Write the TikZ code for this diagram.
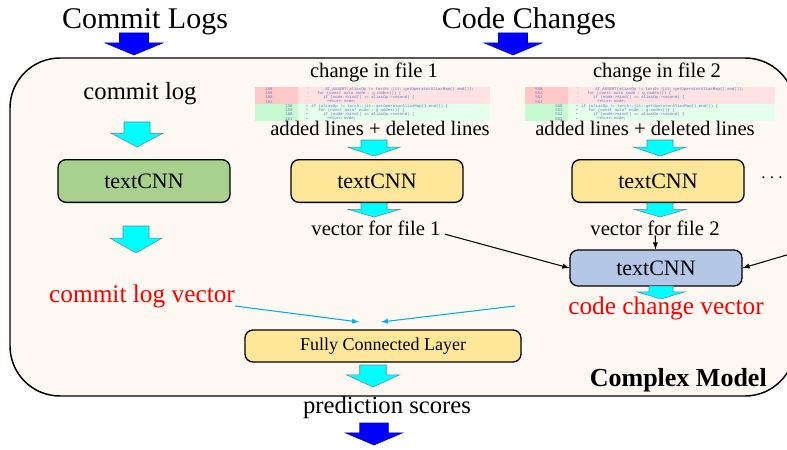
\documentclass[tikz,border=0pt]{standalone}
\usepackage{fontspec}
\setmainfont{Liberation Serif}
\setmonofont{Liberation Mono}
\usetikzlibrary{arrows}

\definecolor{bgcream}{RGB}{253,249,242}
\definecolor{cnngreen}{RGB}{169,209,142}
\definecolor{cnnyellow}{RGB}{255,230,153}
\definecolor{cnnblue}{RGB}{180,199,231}
\definecolor{lineblue}{RGB}{0,176,240}
\definecolor{delrow}{RGB}{255,226,226}
\definecolor{delnum}{RGB}{255,200,200}
\definecolor{addrow}{RGB}{228,255,234}
\definecolor{addnum}{RGB}{200,250,210}
\definecolor{codeink}{RGB}{105,115,190}
\definecolor{arrowcyan}{RGB}{0,255,255}
\definecolor{arrowblue}{RGB}{0,0,255}
\definecolor{arrowrim}{RGB}{90,140,160}

\tikzset{
  cnn/.style={draw,line width=1pt,rounded corners=6pt,minimum width=129pt,
    minimum height=32pt,font=\fontsize{16.5}{20}\selectfont},
  lbl/.style={inner sep=0pt,font=\fontsize{15.5}{18}\selectfont},
  biglbl/.style={inner sep=0pt,font=\fontsize{18.5}{22}\selectfont},
  title/.style={inner sep=0pt,font=\fontsize{22.5}{27}\selectfont},
  vecred/.style={inner sep=0pt,text=red,font=\fontsize{19}{23}\selectfont},
  code/.style={inner sep=0pt,text=codeink,font=\ttfamily\fontsize{3}{3}\selectfont},
  cyanarrow/.style={fill=arrowcyan,draw=arrowrim,line width=0.4pt},
  bluearrow/.style={fill=arrowblue,draw={rgb,255:red,0;green,0;blue,170},line width=0.4pt}
}

\newcommand{\fatarrow}[5]{%
  \path[#1] (#2-#4/4,#3) -- (#2+#4/4,#3) -- (#2+#4/4,#3+#5*0.45)
    -- (#2+#4/2,#3+#5*0.45) -- (#2,#3+#5) -- (#2-#4/2,#3+#5*0.45)
    -- (#2-#4/4,#3+#5*0.45) -- cycle;}

\newcommand{\diffsnip}[4]{%
  \begin{scope}[shift={(#1,#2)}]
    \fill[delrow] (0,0) rectangle (#3,17);
    \fill[delnum] (0,0) rectangle (43,17);
    \fill[addrow] (0,17) rectangle (#3,34);
    \fill[addnum] (0,17) rectangle (43,34);
    \node[code] at (14,2.1)  {\number\numexpr#4\relax};
    \node[code] at (14,6.4)  {\number\numexpr#4+1\relax};
    \node[code] at (14,10.6) {\number\numexpr#4+2\relax};
    \node[code] at (14,14.9) {\number\numexpr#4+3\relax};
    \node[code] at (34,19.1) {\number\numexpr#4\relax};
    \node[code] at (34,23.4) {\number\numexpr#4+1\relax};
    \node[code] at (34,27.6) {\number\numexpr#4+2\relax};
    \node[code] at (34,31.9) {\number\numexpr#4+3\relax};
    \node[code] at (53,2.1)  {-};
    \node[code] at (53,6.4)  {-};
    \node[code] at (53,10.6) {-};
    \node[code] at (53,14.9) {-};
    \node[code] at (52,19.1) {+};
    \node[code] at (52,23.4) {+};
    \node[code] at (52,27.6) {+};
    \node[code] at (52,31.9) {+};
    \node[code,anchor=west] at (70,2.1)  {AT\_ASSERT(aliasOp != torch::jit::getOperatorAliasMap().end());};
    \node[code,anchor=west] at (62,6.4)  {for (const auto node : g.nodes()) \{};
    \node[code,anchor=west] at (68,10.6) {if (node->kind() == aliasOp->second) \{};
    \node[code,anchor=west] at (72,14.9) {return node;};
    \node[code,anchor=west] at (56,19.1) {if (aliasOp != torch::jit::getOperatorAliasMap().end()) \{};
    \node[code,anchor=west] at (63,23.4) {for (const auto* node : g.nodes()) \{};
    \node[code,anchor=west] at (68,27.6) {if (node->kind() == aliasOp->second) \{};
    \node[code,anchor=west] at (72,31.9) {return node;};
  \end{scope}}

\begin{document}
\begin{tikzpicture}[x=0.75pt,y=-0.75pt,>=latex]
  \useasboundingbox (0,0) rectangle (787,449);

  \draw[line width=1.1pt,fill=bgcream,rounded corners=37.5pt] (10,58) rectangle (795,396);

  \node[title,anchor=base] (clogs)    at (145,29) {Commit Logs};
  \node[title,anchor=base] (cchanges) at (529,29) {Code Changes};
  \fatarrow{bluearrow}{134}{33}{58}{22}
  \fatarrow{bluearrow}{513}{33}{58}{22}

  \node[biglbl,anchor=base] (clog) at (140,100) {commit log};
  \fatarrow{cyanarrow}{137}{122}{52}{25}
  \node[cnn,fill=cnngreen] (tcg) at (144,181) {textCNN};
  \fatarrow{cyanarrow}{136}{226}{52}{27}
  \node[vecred,anchor=base] (clv) at (142,302) {commit log vector};

  \node[lbl,anchor=base] (chg1) at (374,78) {change in file 1};
  \diffsnip{255}{87}{235}{158}
  \node[lbl,anchor=base] (add1) at (380,136) {added lines + deleted lines};
  \fatarrow{cyanarrow}{374}{140}{52}{16}
  \node[cnn,fill=cnnyellow] (tcy1) at (377,181) {textCNN};
  \fatarrow{cyanarrow}{374}{203}{52}{14}
  \node[lbl,anchor=base] (vf1) at (376,235) {vector for file 1};

  \node[lbl,anchor=base] (chg2) at (657,78) {change in file 2};
  \diffsnip{525}{87}{250}{550}
  \node[lbl,anchor=base] (add2) at (645,136) {added lines + deleted lines};
  \fatarrow{cyanarrow}{660}{140}{52}{16}
  \node[cnn,fill=cnnyellow] (tcy2) at (658,181) {textCNN};
  \node[lbl] (dots) at (772,178) {$\cdots$};
  \fatarrow{cyanarrow}{660}{203}{52}{14}
  \node[lbl,anchor=base] (vf2) at (655,235) {vector for file 2};

  \node[cnn,fill=cnnblue,minimum height=27pt] (tcb) at (656,268) {textCNN};
  \coordinate (more) at (790,254);
  \fatarrow{cyanarrow}{661}{286}{48}{13}
  \node[vecred,anchor=base] (ccv) at (666,314) {code change vector};
  \coordinate (ccvtail) at (515,306);

  \node[cnn,fill=cnnyellow,minimum width=207pt,minimum height=24pt,
    font=\fontsize{13.5}{16}\selectfont] (fcl) at (383,346) {Fully Connected Layer};
  \fatarrow{cyanarrow}{373}{365}{53}{22}
  \node[anchor=base east,inner sep=0pt,font=\bfseries\fontsize{19.5}{23}\selectfont] (cmodel) at (767,386) {Complex Model};

  \node[biglbl,anchor=base] (pscores) at (387,413) {prediction scores};
  \fatarrow{bluearrow}{374}{423}{57}{22}

  \path[->,line width=0.8pt]
    ([xshift=3pt,yshift=1pt]vf1.south east) edge (tcb.west)
    (vf2) edge (tcb)
    (more) edge (tcb.east);
  \path[->,lineblue,line width=0.8pt]
    ([yshift=-3pt]clv.base east) edge ([xshift=-18pt,yshift=5.5pt]fcl.north)
    (ccvtail) edge ([xshift=-1.5pt,yshift=5.5pt]fcl.north);
\end{tikzpicture}
\end{document}
